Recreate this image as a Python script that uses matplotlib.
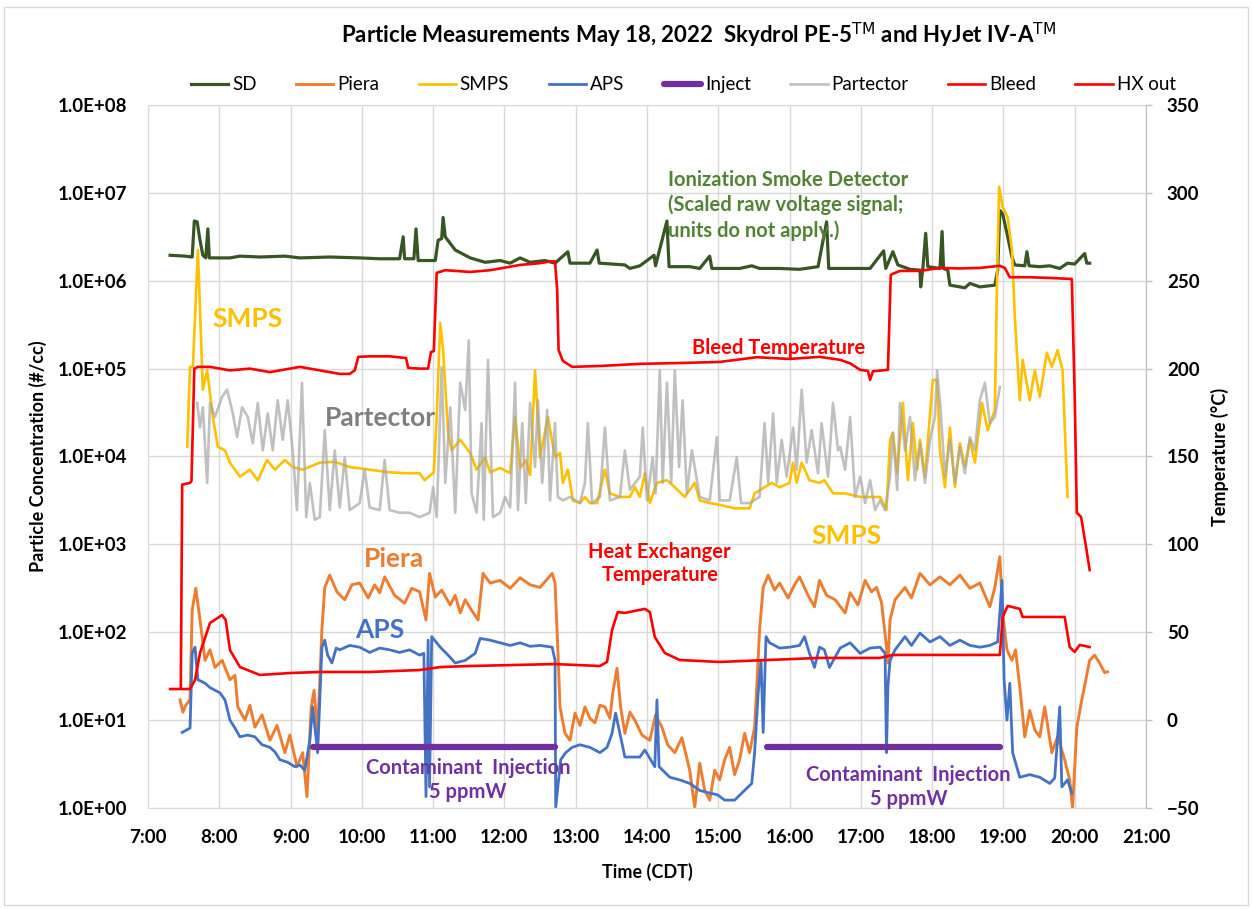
import numpy as np
import matplotlib
matplotlib.use("Agg")
import matplotlib.pyplot as plt
from matplotlib.patches import Rectangle

plt.rcParams['font.family'] = ['Lato', 'DejaVu Sans']

# time in decimal hours (CDT), concentrations as log10(#/cc), temperatures in degC
sd_t = [7.31, 7.52, 7.62, 7.65, 7.69, 7.73, 7.77, 7.81, 7.84, 7.86, 8.15, 8.29, 8.57, 8.92, 9.13, 9.55,
        9.97, 10.25, 10.53, 10.58, 10.60, 10.73, 10.76, 10.79, 11.03, 11.07, 11.12, 11.14, 11.17, 11.31,
        11.52, 11.73, 11.94, 12.08, 12.22, 12.36, 12.57, 12.71, 12.89, 12.92, 13.20, 13.30, 13.33, 13.69,
        13.76, 13.90, 14.10, 14.12, 14.28, 14.31, 14.60, 14.74, 14.88, 14.91, 15.30, 15.47, 15.58, 15.86,
        16.14, 16.40, 16.52, 16.55, 16.85, 17.13, 17.32, 17.35, 17.45, 17.52, 17.69, 17.83, 17.84, 17.87,
        17.91, 17.94, 18.11, 18.14, 18.16, 18.22, 18.25, 18.46, 18.53, 18.67, 18.88, 18.92, 18.95, 18.99,
        19.05, 19.12, 19.16, 19.30, 19.33, 19.36, 19.51, 19.65, 19.79, 19.90, 20.00, 20.14, 20.17, 20.21]
sd_log = [6.29, 6.28, 6.27, 6.68, 6.67, 6.46, 6.29, 6.26, 6.59, 6.26, 6.26, 6.28, 6.27, 6.28, 6.26, 6.27,
          6.26, 6.25, 6.25, 6.50, 6.25, 6.25, 6.59, 6.23, 6.23, 6.46, 6.48, 6.72, 6.50, 6.35,
          6.26, 6.21, 6.23, 6.20, 6.26, 6.21, 6.23, 6.20, 6.33, 6.20, 6.20, 6.35, 6.20, 6.18,
          6.14, 6.17, 6.29, 6.17, 6.68, 6.16, 6.16, 6.14, 6.28, 6.14, 6.14, 6.17, 6.14, 6.14,
          6.13, 6.16, 6.67, 6.14, 6.14, 6.14, 6.34, 6.14, 6.33, 6.18, 6.13, 6.12, 5.93, 6.14,
          6.54, 6.16, 6.14, 6.56, 6.14, 6.12, 5.95, 5.92, 5.97, 5.93, 5.95, 6.12, 6.80, 6.76,
          6.54, 6.27, 6.18, 6.17, 6.33, 6.17, 6.16, 6.17, 6.14, 6.20, 6.19, 6.31, 6.20, 6.20]

piera_t = [7.45, 7.49, 7.53, 7.59, 7.62, 7.67, 7.73, 7.80, 7.87, 7.94, 8.04, 8.15, 8.22, 8.26, 8.36, 8.43,
           8.50, 8.60, 8.71, 8.81, 8.92, 8.99, 9.09, 9.17, 9.23, 9.29, 9.33, 9.38, 9.44, 9.48, 9.55, 9.65,
           9.76, 9.86, 9.97, 10.09, 10.18, 10.25, 10.32, 10.46, 10.60, 10.70, 10.81, 10.90, 10.95, 11.03,
           11.12, 11.24, 11.31, 11.38, 11.45, 11.54, 11.63, 11.70, 11.80, 11.94, 12.08, 12.22, 12.36, 12.50,
           12.67, 12.71, 12.75, 12.78, 12.85, 12.92, 12.99, 13.06, 13.13, 13.20, 13.27, 13.34, 13.41, 13.48,
           13.52, 13.58, 13.63, 13.69, 13.76, 13.83, 13.93, 14.04, 14.12, 14.21, 14.29, 14.39, 14.49, 14.60,
           14.67, 14.74, 14.81, 14.88, 14.95, 15.02, 15.09, 15.16, 15.23, 15.30, 15.37, 15.44, 15.51, 15.54,
           15.58, 15.63, 15.70, 15.79, 15.86, 15.98, 16.07, 16.14, 16.26, 16.35, 16.42, 16.52, 16.64, 16.78,
           16.85, 16.96, 17.06, 17.15, 17.22, 17.29, 17.35, 17.38, 17.41, 17.48, 17.62, 17.71, 17.83, 17.97,
           18.11, 18.25, 18.39, 18.53, 18.67, 18.81, 18.88, 18.95, 18.99, 19.05, 19.12, 19.17, 19.23, 19.30,
           19.37, 19.44, 19.51, 19.58, 19.68, 19.76, 19.86, 19.93, 19.97, 20.03, 20.10, 20.21, 20.28, 20.35,
           20.42, 20.46]
piera_log = [1.23, 1.09, 1.17, 1.23, 2.25, 2.50, 2.14, 1.68, 1.80, 1.60, 1.68, 1.46, 1.51, 1.15, 1.00, 1.17,
             0.92, 1.06, 0.77, 0.94, 0.63, 0.83, 0.47, 0.63, 0.13, 1.15, 1.34, 0.85, 2.03, 2.51, 2.65, 2.46,
             2.37, 2.54, 2.56, 2.39, 2.54, 2.45, 2.63, 2.42, 2.33, 2.50, 2.46, 2.14, 2.67, 2.40,
             2.48, 2.31, 2.42, 2.22, 2.37, 2.25, 2.14, 2.67, 2.56, 2.59, 2.50, 2.62, 2.54, 2.51,
             2.67, 2.56, 1.80, 1.15, 0.85, 0.77, 1.08, 0.94, 1.15, 1.02, 0.97, 1.17, 1.15, 1.02,
             1.31, 1.59, 1.15, 0.85, 1.09, 1.00, 0.83, 0.77, 1.06, 0.92, 0.72, 0.63, 0.80, 0.43,
             0.01, 0.51, 0.20, 0.09, 0.43, 0.32, 0.55, 0.69, 0.38, 0.55, 0.85, 0.63, 0.92, 1.38,
             2.03, 2.51, 2.65, 2.48, 2.56, 2.39, 2.54, 2.63, 2.42, 2.29, 2.59, 2.42, 2.37, 2.22,
             2.45, 2.31, 2.59, 2.46, 2.51, 2.34, 1.91, 1.65, 2.14, 2.37, 2.51, 2.39, 2.67, 2.54,
             2.63, 2.54, 2.65, 2.50, 2.56, 2.29, 2.51, 2.86, 2.22, 1.80, 1.68, 1.80, 1.38, 0.81,
             1.11, 0.89, 0.81, 1.15, 0.63, 0.81, 0.55, 0.32, 0.00, 0.92, 1.23, 1.68, 1.74, 1.65,
             1.54, 1.55]

smps_t = [7.55, 7.59, 7.63, 7.70, 7.77, 7.83, 7.91, 7.98, 8.08, 8.15, 8.29, 8.43, 8.54, 8.67, 8.78, 8.92,
          9.03, 9.17, 9.41, 9.62, 9.83, 10.11, 10.39, 10.60, 10.81, 10.88, 11.01, 11.05, 11.10, 11.14,
          11.21, 11.26, 11.38, 11.52, 11.61, 11.73, 11.80, 11.94, 12.08, 12.15, 12.22, 12.30, 12.36, 12.43,
          12.50, 12.61, 12.71, 12.78, 12.82, 12.89, 12.96, 13.06, 13.13, 13.20, 13.30, 13.41, 13.48, 13.62,
          13.76, 13.83, 13.90, 13.97, 14.04, 14.14, 14.28, 14.39, 14.53, 14.67, 14.74, 14.88, 15.02, 15.23,
          15.44, 15.51, 15.65, 15.75, 15.86, 16.00, 16.05, 16.10, 16.17, 16.28, 16.42, 16.49, 16.61, 16.78,
          16.99, 17.27, 17.36, 17.41, 17.45, 17.51, 17.59, 17.66, 17.73, 17.79, 17.83, 17.90, 18.01, 18.07,
          18.11, 18.18, 18.25, 18.32, 18.39, 18.46, 18.53, 18.60, 18.70, 18.78, 18.88, 18.91, 18.94, 18.99,
          19.06, 19.12, 19.16, 19.23, 19.27, 19.37, 19.44, 19.51, 19.61, 19.68, 19.76, 19.83, 19.90]
smps_log = [4.11, 5.02, 5.02, 6.35, 4.76, 4.98, 4.45, 4.11, 4.07, 3.93, 3.77, 3.85, 3.73, 3.96, 3.85, 3.96,
            3.88, 3.85, 3.93, 3.94, 3.88, 3.85, 3.82, 3.81, 3.81, 3.73, 3.82, 4.45, 5.52, 5.21,
            4.27, 4.07, 4.19, 4.04, 3.85, 3.99, 3.82, 3.87, 3.81, 4.45, 3.87, 3.96, 3.79, 4.98,
            3.99, 4.45, 3.99, 4.04, 3.70, 3.85, 3.50, 3.47, 3.54, 3.47, 3.47, 3.85, 3.58, 3.54,
            3.54, 3.65, 3.54, 3.81, 3.47, 3.70, 3.73, 3.65, 3.54, 3.70, 3.50, 3.47, 3.45, 3.41,
            3.41, 3.58, 3.65, 3.70, 3.65, 3.70, 3.93, 3.70, 3.93, 3.73, 3.70, 3.73, 3.58, 3.58,
            3.54, 3.54, 3.39, 4.19, 4.27, 3.81, 4.61, 3.73, 4.38, 3.85, 4.19, 3.77, 4.87, 4.87,
            4.07, 3.65, 4.33, 3.65, 4.15, 3.88, 4.19, 3.93, 4.61, 4.30, 4.53, 5.97, 7.07, 6.84,
            6.72, 6.35, 5.59, 4.64, 5.10, 4.64, 4.98, 4.68, 5.18, 5.02, 5.21, 4.98, 3.54]

aps_t = [7.48, 7.59, 7.62, 7.66, 7.70, 7.80, 7.87, 7.94, 8.01, 8.08, 8.15, 8.22, 8.29, 8.40, 8.50, 8.60,
         8.71, 8.78, 8.85, 8.96, 9.06, 9.13, 9.20, 9.27, 9.31, 9.38, 9.44, 9.48, 9.52, 9.58, 9.64, 9.69,
         9.83, 9.97, 10.11, 10.25, 10.39, 10.53, 10.67, 10.81, 10.87, 10.90, 10.93, 10.95, 10.98, 11.10,
         11.21, 11.31, 11.45, 11.59, 11.66, 11.80, 11.94, 12.08, 12.22, 12.36, 12.50, 12.67, 12.71, 12.72,
         12.75, 12.79, 12.86, 12.95, 13.06, 13.20, 13.34, 13.44, 13.51, 13.56, 13.62, 13.69, 13.90, 13.97,
         14.11, 14.14, 14.17, 14.32, 14.46, 14.60, 14.74, 14.88, 14.99, 15.09, 15.23, 15.37, 15.47, 15.51,
         15.56, 15.60, 15.63, 15.67, 15.72, 15.86, 16.00, 16.14, 16.21, 16.28, 16.35, 16.42, 16.49, 16.56,
         16.71, 16.85, 16.99, 17.13, 17.27, 17.34, 17.36, 17.38, 17.41, 17.48, 17.62, 17.71, 17.83, 17.97,
         18.11, 18.25, 18.39, 18.53, 18.67, 18.81, 18.92, 18.95, 18.98, 19.01, 19.05, 19.09, 19.13, 19.23,
         19.37, 19.51, 19.65, 19.72, 19.79, 19.82, 19.90, 19.96]
aps_log = [0.86, 0.91, 1.76, 1.83, 1.46, 1.42, 1.37, 1.34, 1.31, 1.23, 1.00, 0.91, 0.81, 0.83, 0.81, 0.72,
           0.69, 0.64, 0.55, 0.52, 0.47, 0.49, 0.43, 0.77, 1.15, 0.63, 1.83, 1.91, 1.74, 1.65, 1.82, 1.80,
           1.85, 1.83, 1.77, 1.82, 1.80, 1.77, 1.80, 1.74, 1.76, 0.13, 1.91, 0.24, 1.95, 1.83,
           1.74, 1.65, 1.68, 1.76, 1.93, 1.91, 1.88, 1.85, 1.88, 1.84, 1.85, 1.83, 1.68, 0.01,
           0.24, 0.55, 0.63, 0.69, 0.72, 0.69, 0.63, 0.69, 0.85, 1.08, 0.85, 0.58, 0.58, 0.66,
           0.47, 1.23, 0.47, 0.35, 0.32, 0.28, 0.20, 0.17, 0.15, 0.09, 0.09, 0.20, 0.28, 0.63,
           1.31, 1.68, 0.86, 1.95, 1.88, 1.82, 1.83, 1.85, 1.95, 1.76, 1.60, 1.83, 1.80, 1.60,
           1.82, 1.88, 1.76, 1.82, 1.83, 1.76, 0.63, 1.38, 1.68, 1.80, 1.95, 1.85, 1.99, 1.89,
           1.95, 1.85, 1.91, 1.85, 1.83, 1.85, 1.89, 2.22, 2.59, 1.46, 1.00, 1.42, 0.63, 0.35,
           0.38, 0.35, 0.28, 0.34, 1.15, 0.24, 0.32, 0.17]

inject_t = [9.31, 12.71, np.nan, 15.68, 18.95]
inject_v = [5, 5, np.nan, 5, 5]

part_t = [7.69, 7.73, 7.77, 7.83, 7.87, 7.94, 8.04, 8.11, 8.19, 8.25, 8.32, 8.40, 8.47, 8.54, 8.61, 8.68,
          8.75, 8.82, 8.89, 8.96, 9.03, 9.09, 9.16, 9.22, 9.27, 9.34, 9.41, 9.48, 9.55, 9.62, 9.69, 9.76,
          9.83, 9.97, 10.04, 10.11, 10.25, 10.32, 10.39, 10.53, 10.67, 10.81, 10.95, 11.00, 11.05, 11.12,
          11.17, 11.24, 11.31, 11.38, 11.45, 11.50, 11.54, 11.61, 11.68, 11.71, 11.77, 11.84, 11.94, 12.01,
          12.08, 12.15, 12.19, 12.25, 12.30, 12.36, 12.43, 12.47, 12.53, 12.60, 12.64, 12.71, 12.75, 12.82,
          12.92, 13.06, 13.13, 13.17, 13.23, 13.34, 13.41, 13.48, 13.62, 13.69, 13.76, 13.90, 13.94, 14.00,
          14.08, 14.12, 14.18, 14.22, 14.28, 14.34, 14.39, 14.45, 14.50, 14.56, 14.63, 14.74, 14.88, 14.98,
          15.02, 15.16, 15.26, 15.32, 15.44, 15.58, 15.65, 15.70, 15.77, 15.82, 15.89, 15.96, 16.05, 16.10,
          16.17, 16.24, 16.31, 16.40, 16.45, 16.54, 16.61, 16.68, 16.71, 16.78, 16.85, 16.92, 16.99, 17.06,
          17.13, 17.20, 17.27, 17.34, 17.41, 17.45, 17.51, 17.55, 17.62, 17.69, 17.76, 17.83, 17.90, 17.97,
          18.04, 18.07, 18.12, 18.18, 18.25, 18.32, 18.39, 18.46, 18.53, 18.60, 18.67, 18.74, 18.81, 18.88,
          18.95]
part_log = [4.61, 4.33, 4.56, 3.70, 4.61, 4.45, 4.68, 4.76, 4.49, 4.22, 4.56, 4.45, 4.15, 4.61, 4.07, 4.49,
            4.07, 4.64, 4.19, 4.64, 4.07, 3.39, 4.84, 3.31, 3.70, 3.28, 3.31, 4.30, 3.39, 4.07, 3.42, 3.99,
            3.39, 3.47, 3.85, 3.42, 3.39, 3.96, 3.39, 3.36, 3.36, 3.31, 3.36, 3.65, 3.31, 5.02,
            3.70, 4.56, 3.36, 4.84, 4.53, 5.32, 3.58, 3.36, 4.38, 3.28, 5.10, 3.31, 3.36, 3.54,
            3.42, 4.84, 3.39, 4.38, 3.47, 4.61, 3.88, 4.64, 3.70, 4.53, 3.50, 4.38, 3.54, 3.50,
            3.54, 3.47, 3.70, 4.38, 3.47, 3.54, 4.33, 3.50, 3.54, 4.07, 3.62, 3.77, 4.33, 3.50,
            3.99, 3.58, 4.98, 3.70, 4.84, 3.70, 4.98, 3.88, 4.64, 3.58, 4.07, 3.54, 3.50, 4.22,
            3.50, 3.50, 3.99, 3.47, 3.47, 3.54, 4.38, 3.70, 4.49, 3.70, 4.19, 3.77, 4.33, 3.85,
            4.76, 3.93, 4.30, 3.81, 4.38, 3.77, 4.61, 4.07, 4.11, 3.85, 4.45, 3.54, 3.77, 3.47,
            3.73, 3.39, 3.50, 3.39, 3.77, 4.27, 3.62, 4.61, 4.07, 4.45, 3.73, 4.15, 3.70, 4.19,
            4.45, 4.98, 4.53, 3.77, 4.19, 3.70, 4.11, 3.81, 4.22, 4.07, 4.64, 4.84, 4.38, 4.45,
            4.79]

bleed_t = [7.46, 7.48, 7.59, 7.61, 7.65, 7.70, 7.87, 8.15, 8.43, 8.71, 8.99, 9.13, 9.41, 9.69, 9.83, 9.90,
           9.95, 10.11, 10.39, 10.62, 10.65, 10.81, 10.93, 10.97, 11.01, 11.05, 11.17, 11.52, 11.80, 12.22,
           12.50, 12.64, 12.71, 12.74, 12.76, 12.82, 12.95, 13.34, 13.90, 14.46, 15.02, 15.54, 16.00, 16.42,
           16.71, 16.85, 16.99, 17.10, 17.13, 17.17, 17.38, 17.42, 17.45, 17.55, 17.83, 18.11, 18.39, 18.67,
           18.95, 19.02, 19.09, 19.37, 19.65, 19.96, 20.00, 20.03, 20.09, 20.16, 20.21]
bleed_T = [18, 134, 135, 136, 200, 201, 201, 199, 200, 198, 200, 201, 199, 197, 197, 199,
           206.7, 207, 207, 206, 200.4, 200, 200, 209.5, 210, 254.5, 256, 255, 256, 259,
           260, 261, 261, 244.8, 210.6, 204.4, 201, 201.5, 202.7, 203.2, 203.8, 206.5, 205.5, 206.7,
           205, 203, 199.3, 198.7, 193.6, 198.5, 199.3, 253.3, 254, 255.6, 255.6, 257.3, 257, 257.3,
           258.5, 257.3, 252, 252, 251.6, 251, 185, 117.9, 115.6, 98.5, 85.4]

hx_t = [7.31, 7.59, 7.66, 7.73, 7.87, 8.04, 8.09, 8.15, 8.29, 8.57, 8.99, 9.41, 10.11, 10.81, 11.10, 11.52,
        12.71, 13.34, 13.44, 13.51, 13.59, 13.69, 13.97, 14.04, 14.11, 14.25, 14.46, 15.02, 16.42, 17.27,
        17.45, 18.95, 18.99, 19.06, 19.23, 19.27, 19.86, 19.93, 20.00, 20.07, 20.21]
hx_T = [17.7, 17.7, 22.8, 38.2, 55.3, 59.8, 57, 39.9, 30.2, 25.7, 26.8, 27.4, 27.4, 28.5, 30.2, 30.8,
        31.9, 30.8, 33.1, 51.3, 61.5, 61, 63.3, 61.5, 47.3, 38.2, 34.2, 33.1, 35.4, 35.4,
        37.1, 37.1, 58.7, 65, 63.3, 58.7, 58.7, 41.6, 38.8, 42.8, 41.6]

hours = list(range(7, 22))
hour_labels = ['%d:00' % h for h in hours]
left_ticks = [1e0, 1e1, 1e2, 1e3, 1e4, 1e5, 1e6, 1e7, 1e8]
left_labels = ['1.0E+%02d' % i for i in range(9)]

fig = plt.figure(figsize=(12.52, 9.09), dpi=100)
fig.patches.append(Rectangle((0.003, 0.004), 0.994, 0.988, transform=fig.transFigure,
                             fill=False, edgecolor='#D9D9D9', lw=1))
ax = fig.add_axes([0.1182, 0.1111, 0.7971, 0.7734])
ax.set_yscale('log')
ax.set_ylim(1, 1e8)
ax.set_xlim(7, 21)

lw = 1.9
l_sd, = ax.plot(sd_t, 10 ** np.array(sd_log), color='#375623', lw=2.3, label='SD')
l_piera, = ax.plot(piera_t, 10 ** np.array(piera_log), color='#ED7D31', lw=2.1, label='Piera')
l_smps, = ax.plot(smps_t, 10 ** np.array(smps_log), color='#FFC000', lw=lw, label='SMPS')
l_aps, = ax.plot(aps_t, 10 ** np.array(aps_log), color='#4472C4', lw=2.0, label='APS')
l_inj, = ax.plot(inject_t, inject_v, color='#7030A0', lw=4.5, solid_capstyle='round', label='Inject')
l_part, = ax.plot(part_t, 10 ** np.array(part_log), color='#A6A6A6', alpha=0.7, lw=lw, label='Partector')

ax.set_xticks(hours)
ax.set_xticklabels(hour_labels)
ax.set_yticks(left_ticks)
ax.set_yticklabels(left_labels)
ax.minorticks_off()
ax.grid(True, color='#D9D9D9', lw=1)
ax.set_axisbelow(True)
ax.tick_params(length=0, labelsize=13.5)
ax.tick_params(axis='y', pad=15)
ax.tick_params(axis='x', pad=15)
for lab in ax.get_xticklabels() + ax.get_yticklabels():
    lab.set_fontweight('bold')
for s in ax.spines.values():
    s.set_color('#D9D9D9')
ax.set_xlabel('Time (CDT)', fontsize=13, fontweight='bold', labelpad=12)
ax.set_ylabel('Particle Concentration (#/cc)', fontsize=13, fontweight='bold', labelpad=8)

ax2 = ax.twinx()
ax2.set_ylim(-50, 350)
ax2.set_yticks(range(-50, 351, 50))
l_bleed, = ax2.plot(bleed_t, bleed_T, color='#FF0000', lw=lw, label='Bleed')
l_hx, = ax2.plot(hx_t, hx_T, color='#FF0000', lw=lw, label='HX out')
ax2.tick_params(length=4, width=1, color='#BFBFBF', labelsize=13.5, pad=11)
for lab in ax2.get_yticklabels():
    lab.set_fontweight('bold')
for name, s in ax2.spines.items():
    s.set_visible(name == 'right')
ax2.spines['right'].set_color('#BFBFBF')
ax2.set_ylabel('Temperature (\u00b0C)', fontsize=13, fontweight='bold', labelpad=8)

fig.legend(handles=[l_sd, l_piera, l_smps, l_aps, l_inj, l_part, l_bleed, l_hx],
           loc='center', bbox_to_anchor=(0.5457, 0.9065), ncol=8, frameon=False,
           fontsize=13.5, handlelength=2.0, handletextpad=0.2, columnspacing=2.1)

fig.text(0.558, 0.9615, 'Particle Measurements May 18, 2022  Skydrol PE-5$^{\\mathsf{TM}}$ and HyJet IV-A$^{\\mathsf{TM}}$',
         ha='center', va='center', fontsize=16, fontweight='bold')

# annotations (data coordinates on the concentration axis)
big = 19
mid = 14.5
ax.text(7.91, 3.7e5, 'SMPS', color='#FFC000', fontsize=big, fontweight='bold', ha='left', va='center')
ax.text(9.48, 2.75e4, 'Partector', color='#7F7F7F', fontsize=big, fontweight='bold', ha='left', va='center')
ax.text(16.31, 1.24e3, 'SMPS', color='#FFC000', fontsize=big, fontweight='bold', ha='left', va='center')
ax.text(10.03, 6.9e2, 'Piera', color='#ED7D31', fontsize=big, fontweight='bold', ha='left', va='center')
ax.text(9.90, 1.06e2, 'APS', color='#4472C4', fontsize=big, fontweight='bold', ha='left', va='center')
ax.text(15.85, 1.7e5, 'Bleed Temperature', color='#FF0000', fontsize=mid, fontweight='bold',
        ha='center', va='center')
ax.text(14.18, 6.1e2, 'Heat Exchanger\nTemperature', color='#FF0000', fontsize=mid, fontweight='bold',
        ha='center', va='center', linespacing=1.2)
ax.text(14.29, 7.2e6, 'Ionization Smoke Detector\n(Scaled raw voltage signal;\nunits do not apply.)',
        color='#548235', fontsize=mid, fontweight='bold', ha='left', va='center', linespacing=1.3)
ax.text(11.49, 2.08, 'Contaminant  Injection\n5 ppmW', color='#7030A0', fontsize=mid, fontweight='bold',
        ha='center', va='center', linespacing=1.2)
ax.text(17.67, 1.73, 'Contaminant  Injection\n5 ppmW', color='#7030A0', fontsize=mid, fontweight='bold',
        ha='center', va='center', linespacing=1.2)

fig.savefig('out.png', dpi=100)
